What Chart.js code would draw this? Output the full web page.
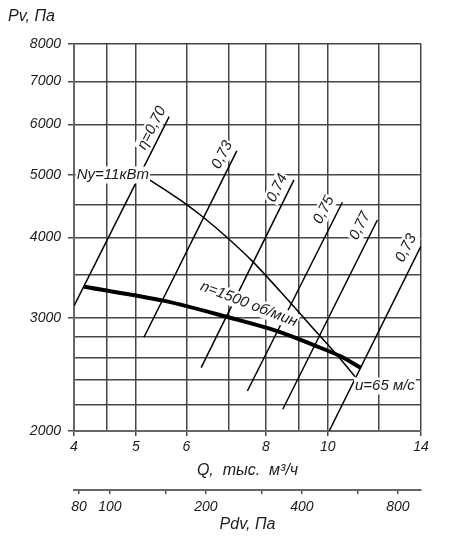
<!DOCTYPE html>
<html>
<head>
<meta charset="utf-8">
<script src="https://cdn.jsdelivr.net/npm/chart.js@4/dist/chart.umd.min.js"></script>
<style>
  html, body { margin: 0; padding: 0; background: #fff; }
</style>
</head>
<body>
<canvas id="chart" width="451" height="538"></canvas>
<script>
// оси: Q, тыс. м3/ч (log) и Pv, Па (log)
const qGrid = [4, 4.5, 5, 6, 7, 8, 9, 10, 12, 14];
const qLabels = [4, 5, 6, 8, 10, 14];
const pGrid = [2000, 2200, 2400, 2600, 2800, 3000, 3500, 4000, 4500, 5000, 6000, 7000, 8000];
const pLabels = [2000, 3000, 4000, 5000, 6000, 7000, 8000];
// нижняя шкала динамического давления
const pdvTicks = [80, 100, 150, 200, 300, 400, 600, 800];
const pdvLabels = [80, 100, 200, 400, 800];
const pdvRange = [77.2, 944.7];

// характеристика n=1500 об/мин
const qPress = [4.15, 5.52, 6.94, 8.42, 9.49, 10.45, 11.26];
const pPress = [3353, 3190, 3011, 2851, 2722, 2616, 2509];

// мощность Ny=11 кВт
const qPower = [5.24, 5.97, 6.38, 6.98, 7.60, 8.73, 9.66, 10.45, 11.03];
const pPower = [4928, 4521, 4301, 3986, 3682, 3169, 2830, 2593, 2430];

// линии КПД (начало / конец)
const etaText = ['η=0,70', '0,73', '0,74', '0,75', '0,77', '0,73'];
const etaQ = [[4.0, 5.64], [5.15, 7.20], [6.33, 8.85], [7.48, 10.54], [8.50, 11.96], [10.05, 14.0]];
const etaP = [[3130, 6166], [2798, 5454], [2509, 4916], [2308, 4538], [2162, 4259], [2000, 3880]];
const etaLabelQ = [5.30, 6.83, 8.33, 9.86, 11.23, 13.27];
const etaLabelP = [5920, 5377, 4776, 4415, 4169, 3852];

const FONT = "'Liberation Sans', Arial, sans-serif";
const GRID = '#474747';
const TEXT = '#1a1a1a';

const toPts = (qs, ps) => qs.map((q, i) => ({ x: q, y: ps[i] }));

const datasets = [
  { data: toPts(qPress, pPress), borderColor: '#000', borderWidth: 4, cubicInterpolationMode: 'monotone' },
  { data: toPts(qPower, pPower), borderColor: '#000', borderWidth: 1.5, cubicInterpolationMode: 'monotone' },
  ...etaQ.map((qs, i) => ({ data: toPts(qs, etaP[i]), borderColor: '#000', borderWidth: 1.5 }))
].map(d => ({ ...d, showLine: true, pointRadius: 0, fill: false, xAxisID: 'x', yAxisID: 'y' }));

function label(ctx, text, x, y, angle, align, size) {
  ctx.save();
  ctx.translate(x, y);
  ctx.rotate(angle * Math.PI / 180);
  ctx.font = `italic ${size}px ${FONT}`;
  const w = ctx.measureText(text).width;
  const x0 = align === 'left' ? 0 : -w / 2;
  ctx.fillStyle = '#fff';
  ctx.fillRect(x0 - 1, -size / 2 - 1, w + 2, size + 2);
  ctx.fillStyle = TEXT;
  ctx.textAlign = align;
  ctx.textBaseline = 'middle';
  ctx.fillText(text, 0, 0);
  ctx.restore();
}

const notes = {
  id: 'notes',
  afterDatasetsDraw(chart) {
    const { ctx, scales: { x, y } } = chart;
    etaText.forEach((t, i) => {
      label(ctx, t, x.getPixelForValue(etaLabelQ[i]), y.getPixelForValue(etaLabelP[i]), -63.4, 'center', 15);
    });
    label(ctx, 'Ny=11кВт', x.getPixelForValue(4.04), y.getPixelForValue(5004), 0, 'left', 15);
    label(ctx, 'n=1500 об/мин', x.getPixelForValue(7.52), y.getPixelForValue(3151), 21, 'center', 15);
    label(ctx, 'u=65 м/с', x.getPixelForValue(11.03), y.getPixelForValue(2350), 0, 'left', 15);
    ctx.save();
    ctx.font = `italic 16px ${FONT}`;
    ctx.fillStyle = TEXT;
    ctx.textBaseline = 'middle';
    ctx.fillText('Pv, Па', 8, 17);
    ctx.restore();
  }
};

const tickFont = { family: FONT, size: 14, style: 'italic' };
const titleFont = { family: FONT, size: 16, style: 'italic' };

new Chart(document.getElementById('chart'), {
  type: 'scatter',
  data: { datasets },
  options: {
    responsive: false,
    animation: false,
    layout: { padding: { left: 0, top: 44, right: 30, bottom: 0 } },
    plugins: { legend: { display: false }, tooltip: { enabled: false } },
    scales: {
      x: {
        type: 'logarithmic', position: 'bottom', min: 4, max: 14, weight: 0,
        afterBuildTicks: s => { s.ticks = qGrid.map(v => ({ value: v })); },
        afterFit: s => { s.height = 59; },
        ticks: { font: tickFont, color: TEXT, padding: 3, maxRotation: 0, autoSkip: false,
          callback: v => qLabels.includes(v) ? String(v) : '' },
        grid: { color: GRID, lineWidth: 1.5, tickLength: 5,
          tickColor: c => qLabels.includes(c.tick?.value) ? GRID : 'rgba(0,0,0,0)' },
        border: { color: '#666', width: 2 },
        title: { display: true, text: 'Q,  тыс.  м³/ч', font: titleFont, color: TEXT, padding: { top: 0, bottom: 10 } }
      },
      x2: {
        type: 'logarithmic', position: 'bottom', min: pdvRange[0], max: pdvRange[1], weight: 1,
        afterBuildTicks: s => { s.ticks = pdvTicks.map(v => ({ value: v })); },
        afterFit: s => { s.height = 48; },
        ticks: { font: tickFont, color: TEXT, padding: 5, maxRotation: 0, autoSkip: false,
          callback: v => pdvLabels.includes(v) ? String(v) : '' },
        grid: { drawOnChartArea: false, color: '#555', lineWidth: 1.5, tickLength: 4 },
        border: { color: '#666', width: 2 },
        title: { display: true, text: 'Pdv, Па', font: titleFont, color: TEXT, padding: { top: 0, bottom: 4 } }
      },
      y: {
        type: 'logarithmic', position: 'left', min: 2000, max: 8000,
        afterBuildTicks: s => { s.ticks = pGrid.map(v => ({ value: v })); },
        afterFit: s => { s.width = 74; },
        ticks: { font: tickFont, color: TEXT, padding: 7, autoSkip: false,
          callback: v => pLabels.includes(v) ? String(v) : '' },
        grid: { color: GRID, lineWidth: 1.5, tickLength: 6,
          tickColor: c => pLabels.includes(c.tick?.value) ? GRID : 'rgba(0,0,0,0)' },
        border: { color: '#666', width: 2 }
      }
    }
  },
  plugins: [notes]
});
</script>
</body>
</html>
